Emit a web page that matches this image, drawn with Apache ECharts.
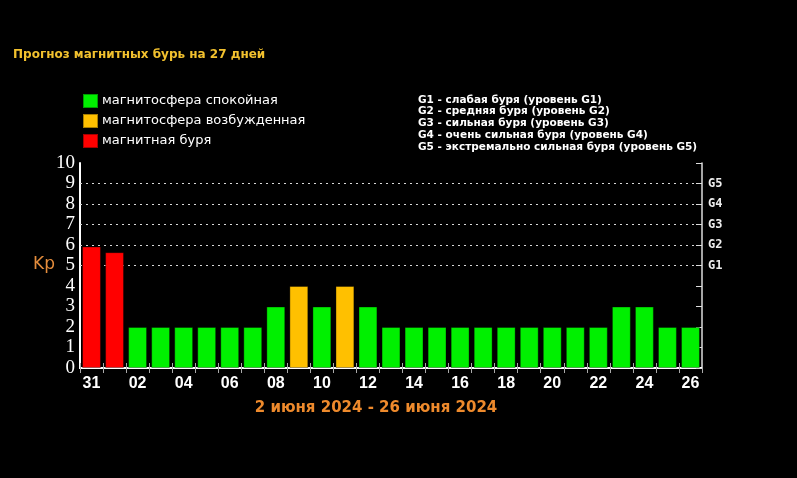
<!DOCTYPE html>
<html><head><meta charset="utf-8">
<script src="https://cdn.jsdelivr.net/npm/echarts@6/dist/echarts.min.js"></script>
<style>html,body{margin:0;padding:0;background:#000;}#c{width:797px;height:478px;}</style>
</head><body><div id="c"></div>
<script>
const titleText = 'Прогноз магнитных бурь на 27 дней';
const dateRange = '2 июня 2024 - 26 июня 2024';
const days = ['31','01','02','03','04','05','06','07','08','09','10','11','12','13','14','15','16','17','18','19','20','21','22','23','24','25','26'];
const kp = [5.93,5.65,2,2,2,2,2,2,3,4,3,4,3,2,2,2,2,2,2,2,2,2,2,3,3,2,2];
const statusNames = ['магнитосфера спокойная','магнитосфера возбужденная','магнитная буря'];
const statusColors = ['#00f000','#ffc000','#ff0000'];
const gLevels = ['G1','G2','G3','G4','G5'];
const gValues = [5,6,7,8,9];
const gNotes = ['G1 - слабая буря (уровень G1)','G2 - средняя буря (уровень G2)','G3 - сильная буря (уровень G3)','G4 - очень сильная буря (уровень G4)','G5 - экстремально сильная буря (уровень G5)'];

function statusOf(v){ return v >= 5 ? 2 : (v >= 4 ? 1 : 0); }

const series = statusNames.map((name, si) => ({
  name: name,
  type: 'bar',
  stack: 'kp',
  barCategoryGap: '18%',
  itemStyle: { color: statusColors[si], borderColor: 'rgba(0,0,0,0.35)', borderWidth: 1 },
  data: kp.map(v => statusOf(v) === si ? v : '-'),
  z: 3
}));
series[0].markLine = {
  silent: true, symbol: 'none', z: 1,
  label: { show: false },
  lineStyle: { color: '#d8d8d8', type: [2, 4], width: 1 },
  data: gValues.map(v => ({ yAxis: v }))
};

const chart = echarts.init(document.getElementById('c'));
chart.setOption({
  backgroundColor: '#000',
  animation: false,
  title: { text: titleText, left: 8, top: 44,
    textStyle: { color: '#f2c12e', fontSize: 12, fontWeight: 'bold', fontFamily: 'DejaVu Sans' } },
  legend: {
    orient: 'vertical', left: 82, top: 93, padding: 0, itemWidth: 15, itemHeight: 14, itemGap: 4,
    icon: 'rect', selectedMode: false,
    textStyle: { color: '#fff', fontSize: 13, lineHeight: 14, fontFamily: 'DejaVu Sans', padding: [0,0,0,-1] },
    data: statusNames
  },
  grid: { left: 80, right: 95, top: 163, bottom: 110 },
  xAxis: [{
    type: 'category', data: days, position: 'bottom',
    axisLine: { lineStyle: { color: '#fff', width: 2 } },
    axisTick: { show: true, inside: true, length: 5, interval: 0, lineStyle: { color: '#aaa' } },
    axisLabel: { interval: 1, color: '#fff', fontSize: 16, fontWeight: 'bold', fontFamily: 'Liberation Sans', margin: 8 }
  }, {
    type: 'category', data: days, position: 'top',
    axisLine: { lineStyle: { color: '#fff', width: 2 } },
    axisTick: { show: true, inside: true, length: 5, interval: 0, lineStyle: { color: '#aaa' } },
    axisLabel: { show: false }
  }],
  yAxis: [{
    type: 'value', min: 0, max: 10, interval: 1, position: 'left',
    axisLine: { show: true, lineStyle: { color: '#fff', width: 2 } },
    axisTick: { show: false },
    splitLine: { show: false },
    axisLabel: { color: '#fff', fontSize: 19, fontFamily: 'Liberation Serif', margin: 5 }
  }, {
    type: 'value', min: 0, max: 10, interval: 1, position: 'right',
    axisLine: { show: true, lineStyle: { color: '#ddd', width: 1.5 } },
    axisTick: { show: true, inside: true, length: 6, lineStyle: { color: '#ddd' } },
    splitLine: { show: false },
    axisLabel: { color: '#eee', fontSize: 12, fontWeight: 'bold', fontFamily: 'DejaVu Sans Mono', margin: 6,
      formatter: v => { const i = gValues.indexOf(v); return i >= 0 ? gLevels[i] : ''; } }
  }],
  graphic: [
    { type: 'text', left: 418, top: 94, style: { text: gNotes.join('\n'), fill: '#fff', font: 'bold 10.5px "DejaVu Sans"', lineHeight: 11.8 } },
    { type: 'text', left: 33, top: 256, style: { text: 'Kp', fill: '#e38c3c', font: '17px "DejaVu Sans"' } },
    { type: 'text', x: 376, y: 408, style: { text: dateRange, fill: '#ee8a2c', font: 'bold 15px "DejaVu Sans"', align: 'center', verticalAlign: 'middle' } }
  ],
  series: series
});
</script></body></html>
